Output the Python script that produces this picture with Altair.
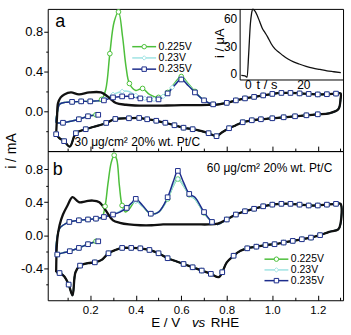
import altair as alt
import pandas as pd

FONT = "Liberation Sans"

SERIES = ["0.225V", "0.23V", "0.235V"]
HOLD_E = [0.225, 0.23, 0.235]
COLORS = ["#4dbf3b", "#9fe3e3", "#1d2d8c"]
SHAPES = ["circle", "diamond", "square"]

X_DOM = [0.013, 1.311]
XT_MAJOR = [0.2, 0.4, 0.6, 0.8, 1.0, 1.2]
XT_ALL = [0.1, 0.2, 0.3, 0.4, 0.5, 0.6, 0.7, 0.8, 0.9, 1.0, 1.1, 1.2, 1.3]

# ---------------- panel a : 30 ug/cm2 ----------------
a_up_E = [0.05, 0.054, 0.058, 0.07, 0.086, 0.115, 0.15, 0.196, 0.247, 0.276, 0.313, 0.357, 0.415, 0.47,
          0.52, 0.57, 0.62, 0.67, 0.72, 0.76, 0.80, 0.84, 0.88, 0.92, 0.96, 1.00, 1.04, 1.08, 1.12,
          1.16, 1.20, 1.24, 1.28, 1.30]
a_up_i = [-0.23, -0.05, 0.08, 0.14, 0.17, 0.19, 0.17, 0.19, 0.19, 0.15, 0.083, 0.066, 0.058, 0.057,
          0.058, 0.06, 0.062, 0.063, 0.064, 0.068, 0.085, 0.11, 0.13, 0.145, 0.16, 0.175, 0.185, 0.185, 0.18,
          0.175, 0.17, 0.172, 0.178, 0.18]
a_lo_E = [1.30, 1.29, 1.25, 1.20, 1.15, 1.10, 1.05, 1.00, 0.95, 0.91, 0.87, 0.84, 0.81, 0.78, 0.755,
          0.72, 0.69, 0.65, 0.61, 0.57, 0.53, 0.49, 0.45, 0.415, 0.37, 0.31, 0.27, 0.24, 0.18, 0.137,
          0.11, 0.085, 0.064, 0.05]
a_lo_i = [0.12, 0.02, -0.02, -0.03, -0.04, -0.05, -0.06, -0.07, -0.08, -0.09, -0.11, -0.14, -0.17, -0.21, -0.25,
          -0.22, -0.20, -0.18, -0.165, -0.14, -0.115, -0.095, -0.08, -0.067, -0.07, -0.077, -0.117, -0.14, -0.18, -0.22,
          -0.355, -0.30, -0.27, -0.23]
a_hold_i = -0.035
a_st_E = [0.19, 0.15, 0.115, 0.08, 0.055, 0.05, 0.056, 0.065, 0.09, 0.12, 0.16, 0.20, 0.23]
a_st_i = [-0.05, -0.08, -0.10, -0.115, -0.117, -0.11, 0.00, 0.07, 0.09, 0.095, 0.10, 0.10, 0.105]
a_g_E = [0.25, 0.268, 0.286, 0.305, 0.324, 0.342, 0.357, 0.372, 0.40, 0.43, 0.46, 0.50, 0.54, 0.57, 0.60,
         0.63, 0.66, 0.70, 0.74, 0.77]
a_g_i = [0.12, 0.22, 0.58, 0.90, 1.00, 0.75, 0.45, 0.28, 0.21, 0.23, 0.17, 0.14, 0.19, 0.28, 0.35,
         0.28, 0.20, 0.11, 0.07, 0.075]
a_c_E = [0.26, 0.30, 0.34, 0.37, 0.40, 0.44, 0.48, 0.52, 0.56, 0.60, 0.63, 0.66, 0.70, 0.74, 0.77]
a_c_i = [0.12, 0.17, 0.20, 0.20, 0.16, 0.13, 0.12, 0.15, 0.24, 0.33, 0.27, 0.19, 0.11, 0.07, 0.075]
a_b_E = [0.26, 0.30, 0.34, 0.38, 0.42, 0.46, 0.50, 0.54, 0.57, 0.60, 0.63, 0.66, 0.70, 0.74, 0.77]
a_b_i = [0.11, 0.14, 0.15, 0.15, 0.13, 0.12, 0.12, 0.18, 0.26, 0.32, 0.26, 0.19, 0.11, 0.07, 0.075]

# ---------------- panel b : 60 ug/cm2 ----------------
b_up_E = [0.05, 0.055, 0.065, 0.08, 0.10, 0.122, 0.15, 0.18, 0.21, 0.24, 0.268, 0.30, 0.33, 0.37, 0.42,
          0.47, 0.52, 0.57, 0.62, 0.67, 0.72, 0.76, 0.80, 0.84, 0.88, 0.92, 0.96, 1.00, 1.04, 1.08,
          1.12, 1.16, 1.20, 1.24, 1.28, 1.30]
b_up_i = [-0.45, -0.05, 0.12, 0.25, 0.36, 0.46, 0.40, 0.41, 0.42, 0.40, 0.30, 0.18, 0.15, 0.13, 0.12,
          0.12, 0.13, 0.13, 0.13, 0.13, 0.13, 0.14, 0.19, 0.25, 0.29, 0.32, 0.35, 0.37, 0.38, 0.38,
          0.37, 0.36, 0.36, 0.37, 0.38, 0.38]
b_lo_E = [1.30, 1.29, 1.25, 1.21, 1.17, 1.13, 1.09, 1.05, 1.01, 0.97, 0.93, 0.89, 0.86, 0.83, 0.80,
          0.78, 0.765, 0.73, 0.69, 0.65, 0.61, 0.58, 0.54, 0.50, 0.46, 0.42, 0.38, 0.34, 0.31, 0.28,
          0.25, 0.22, 0.19, 0.155, 0.135, 0.122, 0.105, 0.085, 0.065, 0.05]
b_lo_i = [0.14, 0.07, 0.04, 0.0, -0.03, -0.05, -0.07, -0.09, -0.11, -0.12, -0.14, -0.16, -0.19, -0.25, -0.33,
          -0.45, -0.51, -0.47, -0.43, -0.39, -0.35, -0.32, -0.28, -0.22, -0.18, -0.16, -0.155, -0.155, -0.18, -0.22,
          -0.30, -0.33, -0.34, -0.37, -0.45, -0.73, -0.60, -0.50, -0.46, -0.45]
b_hold_i = -0.075
b_st_E = [0.19, 0.15, 0.11, 0.08, 0.055, 0.05, 0.056, 0.065, 0.08, 0.108, 0.15, 0.19, 0.225]
b_st_i = [-0.11, -0.155, -0.195, -0.215, -0.235, -0.24, 0.0, 0.08, 0.12, 0.16, 0.18, 0.19, 0.20]
b_g_E = [0.25, 0.265, 0.278, 0.292, 0.305, 0.316, 0.328, 0.34, 0.355, 0.375, 0.40, 0.43, 0.466, 0.50, 0.54,
         0.565, 0.585, 0.61, 0.635, 0.66, 0.70, 0.735, 0.76]
b_g_i = [0.21, 0.35, 0.63, 0.88, 0.97, 0.92, 0.60, 0.36, 0.28, 0.33, 0.42, 0.35, 0.26, 0.28, 0.44,
         0.60, 0.68, 0.60, 0.49, 0.44, 0.27, 0.16, 0.13]
b_c_E = [0.26, 0.30, 0.33, 0.36, 0.385, 0.40, 0.43, 0.466, 0.50, 0.54, 0.565, 0.585, 0.61, 0.635, 0.66,
         0.70, 0.735, 0.76]
b_c_i = [0.22, 0.25, 0.29, 0.34, 0.39, 0.41, 0.35, 0.26, 0.28, 0.44, 0.60, 0.68, 0.60, 0.49, 0.44,
         0.27, 0.16, 0.13]
b_b_E = [0.26, 0.30, 0.33, 0.36, 0.385, 0.40, 0.43, 0.466, 0.50, 0.54, 0.565, 0.585, 0.61, 0.635, 0.66,
         0.70, 0.735, 0.76]
b_b_i = [0.22, 0.25, 0.28, 0.33, 0.40, 0.44, 0.36, 0.26, 0.28, 0.46, 0.65, 0.78, 0.64, 0.50, 0.46,
         0.28, 0.16, 0.13]

# ---------------- inset : current transient ----------------
ins_t = [-2.3, -1.0, -0.2, 0.36, 0.95, 1.4, 1.9, 2.5, 3.4, 4.3, 5.2, 6.2, 7.2, 8.4, 9.8, 11.2, 12.8,
         14.5, 16.5, 18.5, 21.0, 23.5, 26.0, 28.5, 31.0, 33.5]
ins_i = [-2.0, -2.5, -4.0, 22.0, 54.0, 66.0, 70.5, 69.0, 64.0, 57.0, 50.0, 45.0, 40.0, 33.0, 27.0, 23.5,
         19.5, 16.0, 12.8, 10.5, 8.0, 6.0, 4.5, 3.0, 2.0, 1.0]

W = 297


def cv_frames(up_E, up_i, lo_E, lo_i, hold_i, st_E, st_i, specific):
    black = pd.DataFrame({"E": up_E + lo_E, "i": up_i + lo_i})
    black["order"] = range(len(black))
    k = next(j for j, e in enumerate(up_E) if e >= 0.79)
    rows = []
    for name, e0, (sE, sI) in zip(SERIES, HOLD_E, specific):
        E = [e0] + st_E + sE + up_E[k:] + lo_E
        I = [hold_i] + st_i + sI + up_i[k:] + lo_i
        last = None
        for n, (e, v) in enumerate(zip(E, I)):
            mark = last is None or abs(e - last) >= 0.035
            if mark:
                last = e
            rows.append({"series": name, "E": e, "i": v, "order": n, "mark": mark})
    return black, pd.DataFrame(rows)


def text(s, x, y, size, **kw):
    return alt.Chart(pd.DataFrame({"t": [s]})).mark_text(
        fontSize=size, font=FONT, color="black", **kw
    ).encode(text="t:N", x=alt.value(x), y=alt.value(y))


def legend_layers(cx, y0, step):
    out = []
    for k, (name, colr, shp) in enumerate(zip(SERIES, COLORS, SHAPES)):
        yk = y0 + k * step
        src = alt.Chart(pd.DataFrame({"t": [name]}))
        out.append(src.mark_rule(color=colr, strokeWidth=1.5).encode(
            x=alt.value(cx - 12), x2=alt.value(cx + 12), y=alt.value(yk)))
        out.append(src.mark_point(shape=shp, color=colr, filled=False, fill="white", fillOpacity=1,
                                  opacity=1, size=20, strokeWidth=1).encode(
            x=alt.value(cx), y=alt.value(yk)))
        out.append(src.mark_text(fontSize=10.5, font=FONT, color="black", align="left",
                                 baseline="middle").encode(
            text="t:N", x=alt.value(cx + 14.5), y=alt.value(yk)))
    return out


def panel(black, col, ydom, yvals, H, show_labels, extras):
    xs = alt.Scale(domain=X_DOM, nice=False, zero=False)
    ys = alt.Scale(domain=ydom, nice=False, zero=False)
    cs = alt.Scale(domain=SERIES, range=COLORS)
    ymaj = "abs(datum.value/0.4 - round(datum.value/0.4)) < 0.01"
    xmaj = "abs(datum.value/0.2 - round(datum.value/0.2)) < 0.01"
    y_axis = alt.Axis(
        values=yvals, title=None, grid=False, domain=False,
        labelExpr=f"{ymaj} ? (datum.value < -0.001 ? '-' : '') + format(abs(datum.value), '.1f') : ''",
        tickSize={"condition": {"test": ymaj, "value": 4}, "value": 2},
        labelPadding=1, labelFontSize=13,
    )
    tick_axis = alt.Axis(
        orient="top", offset=-H, values=XT_ALL, labels=False, domain=False, grid=False, title=None,
        tickSize={"condition": {"test": xmaj, "value": 5}, "value": 3},
    )
    lab_axis = None
    if show_labels:
        lab_axis = alt.Axis(orient="bottom", values=XT_MAJOR, ticks=False, domain=False, grid=False,
                            title=None, format=".1f", labelPadding=4, labelFontSize=11.5)
    lines = alt.Chart(col).mark_line(strokeWidth=1.5, interpolate="catmull-rom").encode(
        x=alt.X("E:Q", scale=xs, axis=tick_axis),
        y=alt.Y("i:Q", scale=ys, axis=None),
        color=alt.Color("series:N", scale=cs, legend=None),
        order="order:Q",
    )
    blk = alt.Chart(black).mark_line(color="#111111", strokeWidth=2.3, interpolate="catmull-rom").encode(
        x=alt.X("E:Q", scale=xs, axis=lab_axis),
        y=alt.Y("i:Q", scale=ys, axis=y_axis),
        order="order:Q",
    )
    pts = alt.Chart(col).transform_filter("datum.mark").mark_point(
        filled=False, fill="white", fillOpacity=1, opacity=1, size=22, strokeWidth=1
    ).encode(
        x=alt.X("E:Q", scale=xs, axis=None),
        y=alt.Y("i:Q", scale=ys, axis=None),
        color=alt.Color("series:N", scale=cs, legend=None),
        shape=alt.Shape("series:N", scale=alt.Scale(domain=SERIES, range=SHAPES), legend=None),
    )
    return alt.layer(lines, blk, pts, *extras).resolve_axis(x="independent", y="independent")


blk_a, col_a = cv_frames(a_up_E, a_up_i, a_lo_E, a_lo_i, a_hold_i, a_st_E, a_st_i,
                         [(a_g_E, a_g_i), (a_c_E, a_c_i), (a_b_E, a_b_i)])
blk_b, col_b = cv_frames(b_up_E, b_up_i, b_lo_E, b_lo_i, b_hold_i, b_st_E, b_st_i,
                         [(b_g_E, b_g_i), (b_c_E, b_c_i), (b_b_E, b_b_i)])

HA, HB = 143, 150

main_a = panel(blk_a, col_a, [-0.40, 1.03], [-0.2, 0.0, 0.2, 0.4, 0.6, 0.8], HA, False, [
    text("a", 12.5, 13, 18, align="center", baseline="middle"),
    text("30 μg/cm² 20% wt. Pt/C", 27, 138, 12, align="left", baseline="alphabetic"),
    text("i / mA", -35.5, 143, 14, align="center", baseline="middle", angle=270),
    *legend_layers(97, 38, 11.3),
])

inset = alt.Chart(pd.DataFrame({"t": ins_t, "i": ins_i})).mark_line(
    color="#111111", strokeWidth=1.3, interpolate="monotone"
).encode(
    x=alt.X("t:Q", scale=alt.Scale(domain=[-2.9, 34.3], range=[193, W], nice=False, zero=False),
            axis=alt.Axis(orient="bottom", offset=-72, values=[0, 20], title="t / s", titleX=220, titleY=5.5,
                          titleBaseline="middle", titleFontSize=13, labelFontSize=12, ticks=False,
                          labelPadding=0, grid=False)),
    y=alt.Y("i:Q", scale=alt.Scale(domain=[-6.5, 70.9], range=[71, 0], nice=False, zero=False),
            axis=alt.Axis(orient="left", offset=-193, values=[0, 30, 60], title="i / μA", titleX=-20,
                          titleY=34, titleAngle=270, titleAlign="center", titleBaseline="middle",
                          titleFontSize=13, labelFontSize=12, ticks=False, labelPadding=3,
                          grid=False)),
)

pa = alt.layer(main_a, inset).resolve_scale(x="independent", y="independent").properties(width=W, height=HA)

pb = panel(blk_b, col_b, [-0.79, 1.02], [-0.6, -0.4, -0.2, 0.0, 0.2, 0.4, 0.6, 0.8], HB, True, [
    text("b", 10, 19, 18, align="center", baseline="middle"),
    text("60 μg/cm² 20% wt. Pt/C", 160, 21, 12, align="left", baseline="alphabetic"),
    text("E / V", 104, 176.5, 13.5, align="left", baseline="alphabetic"),
    text("vs", 145, 176.5, 13.5, align="left", baseline="alphabetic", fontStyle="italic"),
    text("RHE", 164, 176.5, 13.5, align="left", baseline="alphabetic"),
    *legend_layers(230, 108.7, 10.8),
]).properties(width=W, height=HB)

chart = (
    alt.vconcat(pa, pb, spacing=0, bounds="flush")
    .resolve_scale(x="independent", y="independent", color="independent")
    .properties(padding={"left": 5, "top": 5, "right": 4, "bottom": 2})
    .configure(font=FONT)
    .configure_view(stroke="black", strokeWidth=1)
    .configure_axis(labelFont=FONT, titleFont=FONT, labelColor="black", titleColor="black",
                    tickColor="black", domainColor="black", tickWidth=1, titleFontWeight="normal")
)

chart.save("out.html", embed_options={"renderer": "svg", "actions": False})
